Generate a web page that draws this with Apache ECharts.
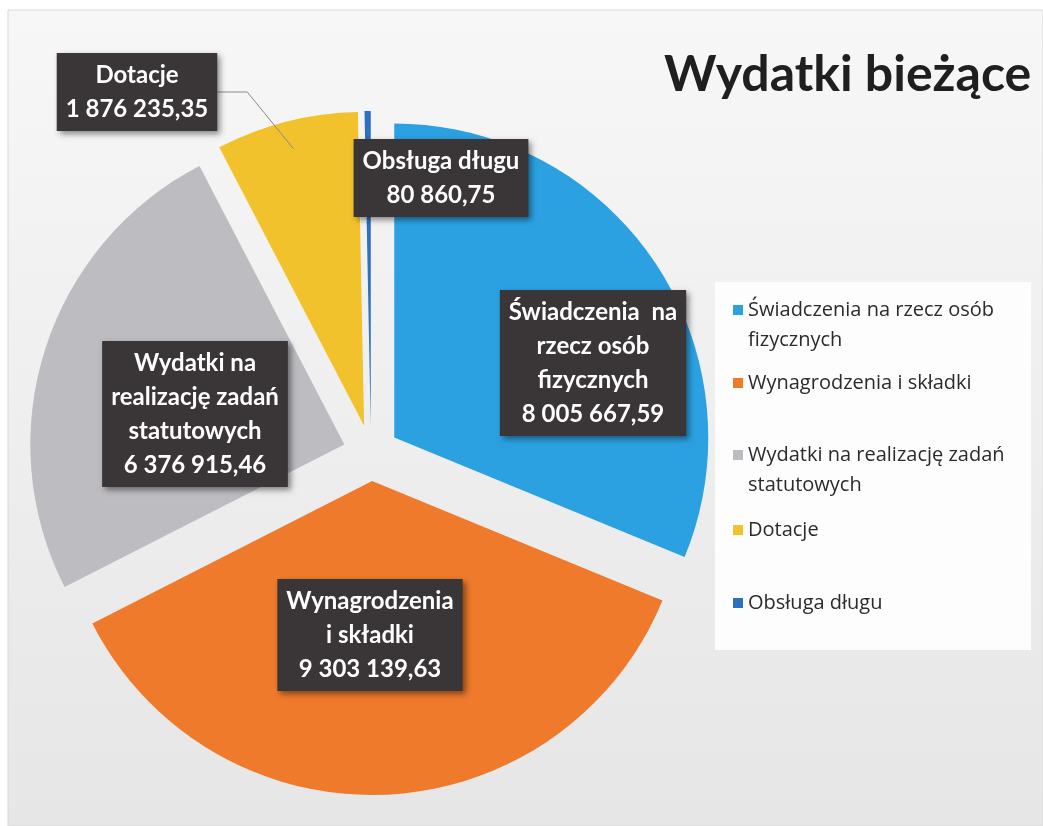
<!DOCTYPE html>
<html>
<head>
<meta charset="utf-8">
<script src="https://cdn.jsdelivr.net/npm/echarts@6/dist/echarts.min.js"></script>
<style>
  html, body { margin: 0; padding: 0; background: #ffffff; }
  #chartPie { width: 1043px; height: 826px; }
</style>
</head>
<body>
<div id="chartPie"></div>
<script>
// dane
var categories = [
  "Świadczenia na rzecz osób fizycznych",
  "Wynagrodzenia i składki",
  "Wydatki na realizację zadań statutowych",
  "Dotacje",
  "Obsługa długu"
];
var values = [8005667.59, 9303139.63, 6376915.46, 1876235.35, 80860.75];
var labelText = [
  "Świadczenia  na\nrzecz osób\nfizycznych",
  "Wynagrodzenia\ni składki",
  "Wydatki na\nrealizację zadań\nstatutowych",
  "Dotacje",
  "Obsługa długu"
];
var legendText = [
  "Świadczenia na rzecz osób\nfizycznych",
  "Wynagrodzenia i składki",
  "Wydatki na realizację zadań\nstatutowych",
  "Dotacje",
  "Obsługa długu"
];

// wyglad
var colors = ["#2ba1e2", "#ef7a2c", "#bcbcc1", "#f1c22c", "#2d6fc0"];
var labelPos = [[593, 363], [370, 635], [195, 414], [137, 92], [441, 178]];
var legendTop = [265, 368, 410, 515, 588];
var pieCenter = [371, 453];
var pieRadius = 314;

function fmt(v) {
  var s = v.toFixed(2).split(".");
  return s[0].replace(/\B(?=(\d{3})+(?!\d))/g, " ") + "," + s[1];
}

var chart = echarts.init(document.getElementById("chartPie"));

// wycinki (rozsuniete)
var pieData = [];
// etykiety (osobna, przezroczysta seria - stan "selected" nadpisuje pozycje etykiet)
var labelData = [];
for (var i = 0; i < categories.length; i++) {
  pieData.push({
    name: categories[i],
    value: values[i],
    selected: true,
    itemStyle: { color: colors[i] }
  });
  labelData.push({
    name: categories[i],
    value: values[i],
    labelLine: { show: i === 3 }
  });
}

var legends = [];
categories.forEach(function (name, i) {
  var twoLines = legendText[i].indexOf("\n") >= 0;
  legends.push({
    orient: "vertical",
    left: 733,
    top: legendTop[i],
    padding: 0,
    selectedMode: false,
    icon: "rect",
    itemWidth: 10,
    itemHeight: 10,
    data: [name],
    formatter: function () {
      // pusta linia na gorze, zeby kwadracik wypadl przy pierwszej linii
      return twoLines ? " \n" + legendText[i] : legendText[i];
    },
    textStyle: {
      fontFamily: "Open Sans",
      fontSize: 20,
      color: "#2b2b2b",
      lineHeight: 30
    }
  });
});

chart.setOption({
  backgroundColor: "#ffffff",
  animation: false,
  title: {
    text: "Wydatki bieżące",
    left: 664,
    top: 50,
    padding: 0,
    textStyle: {
      fontFamily: "Lato",
      fontWeight: "bold",
      fontSize: 50,
      color: "#1f1f1f"
    }
  },
  graphic: [
    {
      type: "rect",
      z: 0,
      shape: { x: 8, y: 10, width: 1035, height: 816 },
      style: {
        fill: new echarts.graphic.LinearGradient(0, 0, 0, 1, [
          { offset: 0, color: "#f7f7f7" },
          { offset: 1, color: "#e6e6e7" }
        ]),
        stroke: "#d8d8d8",
        lineWidth: 1
      }
    },
    {
      type: "rect",
      z: 0,
      shape: { x: 715, y: 282, width: 316, height: 368 },
      style: { fill: "#fdfdfd" }
    }
  ],
  legend: legends,
  series: [
    {
      name: "Wydatki bieżące",
      type: "pie",
      center: pieCenter,
      radius: pieRadius,
      startAngle: 90,
      clockwise: true,
      selectedMode: "multiple",
      selectedOffset: 28,
      emphasis: { disabled: true },
      select: { itemStyle: { borderWidth: 0 } },
      itemStyle: { borderWidth: 0 },
      label: { show: false },
      labelLine: { show: false },
      data: pieData
    },
    {
      name: "etykiety",
      type: "pie",
      center: pieCenter,
      radius: pieRadius,
      startAngle: 90,
      clockwise: true,
      silent: true,
      z: 5,
      avoidLabelOverlap: false,
      emphasis: { disabled: true },
      itemStyle: { color: "rgba(0,0,0,0)", borderWidth: 0 },
      label: {
        show: true,
        position: "outside",
        formatter: function (p) {
          return labelText[p.dataIndex] + "\n" + fmt(p.value);
        },
        color: "#ffffff",
        fontFamily: "Lato",
        fontWeight: "bold",
        fontSize: 24,
        lineHeight: 34,
        backgroundColor: "#3a3536",
        padding: [5, 9],
        shadowColor: "rgba(0,0,0,0.45)",
        shadowBlur: 6,
        shadowOffsetX: 3,
        shadowOffsetY: 3
      },
      labelLine: {
        show: false,
        lineStyle: { color: "#8a8a8a", width: 1 }
      },
      labelLayout: function (p) {
        var pos = labelPos[p.dataIndex];
        return { x: pos[0], y: pos[1], align: "center", verticalAlign: "middle" };
      },
      data: labelData
    }
  ]
});
</script>
</body>
</html>
